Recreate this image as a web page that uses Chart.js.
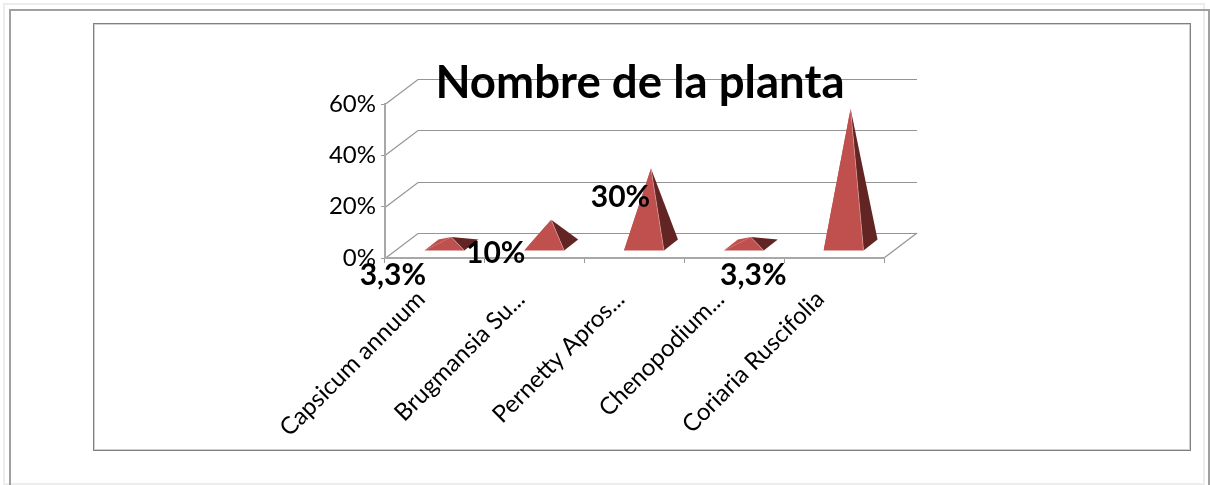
<!DOCTYPE html>
<html>
<head>
<meta charset="utf-8">
<style>
html,body{margin:0;padding:0;background:#fff;overflow:hidden}
#wrap{position:absolute;left:0;top:0;width:1210px;height:485px}
</style>
<script src="https://cdn.jsdelivr.net/npm/chart.js@4/dist/chart.umd.js"></script>
</head>
<body>
<div id="wrap"><canvas id="c" width="1210" height="485"></canvas></div>
<script>
const chartTitle = 'Nombre de la planta';
const categories = ['Capsicum annuum', 'Brugmansia Su...', 'Pernetty Apros...', 'Chenopodium...', 'Coriaria Ruscifolia'];
const values = [3.3, 10, 30, 3.3, 53.3];
const valueLabels = ['3,3%', '10%', '30%', '3,3%', ''];
const yTicks = [0, 20, 40, 60];
// manual label displacement relative to category centre / zero line
const labelOffsets = [[-42, 17], [-39, -5], [-14, -61], [19, 17], [0, 0]];

const DEPTH_X = 33, DEPTH_Y = 25;
const FRONT = '#C0504D', SIDE = '#632523';
const FONT = 'Lato, Carlito, sans-serif';

class PyramidController extends Chart.BarController {
  draw() {
    const ctx = this.chart.ctx;
    const bars = this.getMeta().data;
    const hd = [7, 5.5];
    const poly = (pts, color) => {
      ctx.beginPath();
      pts.forEach((p, i) => i ? ctx.lineTo(p[0], p[1]) : ctx.moveTo(p[0], p[1]));
      ctx.closePath();
      ctx.fillStyle = color;
      ctx.fill();
    };
    ctx.save();
    bars.forEach(bar => {
      const cx = bar.x + DEPTH_X / 2;
      const dy = DEPTH_Y / 2;
      const base = bar.base - dy;
      const top = [cx, bar.y - dy];
      const hw = bar.width / 2;
      const fl = [cx - hw - hd[0], base + hd[1]];
      const fr = [cx + hw - hd[0], base + hd[1]];
      const bl = [cx - hw + hd[0], base - hd[1]];
      const br = [cx + hw + hd[0], base - hd[1]];
      poly([fl, bl, top], FRONT);
      poly([fr, br, top], SIDE);
      poly([fl, fr, top], FRONT);
      ctx.beginPath();
      ctx.moveTo(top[0], top[1]);
      ctx.lineTo(fr[0], fr[1]);
      ctx.strokeStyle = 'rgba(225,180,178,0.6)';
      ctx.lineWidth = 0.8;
      ctx.stroke();
    });
    ctx.restore();
  }
}
PyramidController.id = 'pyramid';
PyramidController.defaults = Chart.BarController.defaults;
PyramidController.overrides = Chart.BarController.overrides;
Chart.register(PyramidController);

const framePlugin = {
  id: 'frame',
  beforeDraw(chart) {
    const ctx = chart.ctx;
    const { x, y } = chart.scales;
    ctx.save();
    ctx.fillStyle = '#fff';
    ctx.fillRect(0, 0, 1210, 485);
    // page frames
    ctx.fillStyle = '#EDEDED';
    ctx.fillRect(3, 3, 1201, 2);
    ctx.fillRect(3, 3, 2, 482);
    ctx.fillRect(1203, 3, 2, 482);
    ctx.fillRect(3, 483, 1202, 2);
    ctx.fillStyle = '#A0A0A0';
    ctx.fillRect(9, 9, 1201, 2);
    ctx.fillRect(9, 9, 2, 476);
    ctx.fillRect(1208, 9, 2, 476);
    // inner frame: dark hairline with soft inner edge
    ctx.fillStyle = '#D0D0D0';
    ctx.fillRect(94, 24, 1096, 1);
    ctx.fillRect(94, 24, 1, 426);
    ctx.fillRect(1189, 24, 1, 426);
    ctx.fillRect(94, 449, 1096, 1);
    ctx.fillStyle = '#808080';
    ctx.fillRect(93, 23, 1098, 1);
    ctx.fillRect(93, 23, 1, 428);
    ctx.fillRect(1190, 23, 1, 428);
    ctx.fillRect(93, 450, 1098, 1);
    // 3D walls
    const l = x.left, r = x.right;
    ctx.strokeStyle = '#949494';
    ctx.lineWidth = 1.2;
    yTicks.forEach(t => {
      const py = Math.round(y.getPixelForValue(t)) + 0.5;
      ctx.beginPath();
      ctx.moveTo(l, py);
      ctx.lineTo(l + DEPTH_X, py - DEPTH_Y);
      ctx.lineTo(r + DEPTH_X, py - DEPTH_Y);
      ctx.stroke();
    });
    const p0 = y.getPixelForValue(0);
    ctx.beginPath();
    ctx.moveTo(r, p0);
    ctx.lineTo(r + DEPTH_X, p0 - DEPTH_Y);
    ctx.stroke();
    ctx.restore();
  },
  afterLayout(chart) {
    chart.titleBlock.left = 240;
    chart.titleBlock.right = 1040;
  }
};

const labelPlugin = {
  id: 'valueLabels',
  afterDatasetsDraw(chart) {
    const ctx = chart.ctx;
    const { x, y } = chart.scales;
    ctx.save();
    ctx.font = 'bold 30px ' + FONT;
    ctx.fillStyle = '#000';
    ctx.textAlign = 'center';
    ctx.textBaseline = 'middle';
    valueLabels.forEach((t, i) => {
      if (!t) return;
      ctx.fillText(t, x.getPixelForValue(i) + labelOffsets[i][0], y.getPixelForValue(0) + labelOffsets[i][1]);
    });
    ctx.restore();
  }
};

new Chart(document.getElementById('c'), {
  type: 'pyramid',
  data: {
    labels: categories,
    datasets: [{
      label: chartTitle,
      data: values,
      backgroundColor: FRONT,
      barPercentage: 0.5,
      categoryPercentage: 0.8
    }]
  },
  plugins: [framePlugin, labelPlugin],
  options: {
    responsive: false,
    animation: false,
    events: [],
    layout: { padding: { left: 0, right: 326, top: 0, bottom: 0 } },
    plugins: {
      legend: { display: false },
      tooltip: { enabled: false },
      title: {
        display: true,
        text: chartTitle,
        color: '#000',
        font: { family: FONT, size: 45.6, weight: 'bold', lineHeight: 1 },
        padding: { top: 60.4, bottom: -2 }
      }
    },
    scales: {
      x: {
        grid: { drawOnChartArea: false, drawTicks: true, tickLength: 5, color: '#9A9A9A' },
        border: { display: true, color: '#A8A8A8', width: 2 },
        ticks: {
          color: '#000',
          font: { family: FONT, size: 24 },
          minRotation: 45,
          maxRotation: 45,
          autoSkip: false,
          padding: 22,
          labelOffset: -14
        },
        afterFit(s) { s.height = 227; }
      },
      y: {
        min: 0,
        max: 60,
        afterBuildTicks(s) { s.ticks = yTicks.map(v => ({ value: v })); },
        grid: { drawOnChartArea: false, drawTicks: true, tickLength: 4, color: '#9A9A9A' },
        border: { display: true, color: '#A8A8A8', width: 2 },
        ticks: {
          color: '#000',
          font: { family: FONT, size: 24 },
          padding: 5,
          callback: v => v + '%'
        },
        afterFit(s) { s.width = 385; }
      }
    }
  }
});
</script>
</body>
</html>
